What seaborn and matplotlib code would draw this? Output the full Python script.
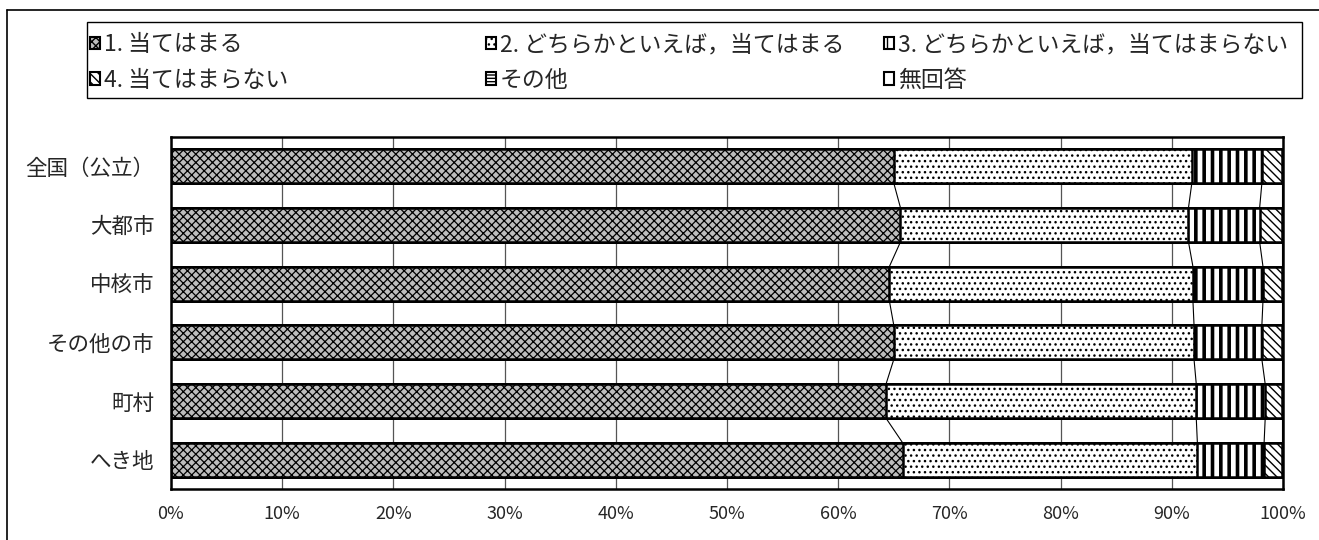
import numpy as np
import pandas as pd
import matplotlib
matplotlib.use("Agg")
import matplotlib.pyplot as plt
from matplotlib.patches import Patch, Rectangle
from matplotlib.lines import Line2D
from matplotlib.ticker import PercentFormatter
import seaborn as sns

categories = ["全国（公立）", "大都市", "中核市", "その他の市", "町村", "へき地"]
answers = ["1. 当てはまる", "2. どちらかといえば，当てはまる", "3. どちらかといえば，当てはまらない",
           "4. 当てはまらない", "その他", "無回答"]
ans1 = [65.0, 65.6, 64.6, 65.0, 64.3, 65.8]
ans2 = [26.8, 25.9, 27.3, 27.0, 27.9, 26.5]
ans3 = [6.3, 6.4, 6.3, 6.1, 6.2, 6.0]
ans4 = [1.8, 2.0, 1.7, 1.8, 1.5, 1.6]
other = [0.0, 0.0, 0.0, 0.0, 0.0, 0.0]
no_answer = [0.1, 0.1, 0.1, 0.1, 0.1, 0.1]
xticks = [0, 10, 20, 30, 40, 50, 60, 70, 80, 90, 100]

# styles for the six answers
hatches = ["xxxx", "...", "||", "\\\\\\\\", "-----", ""]
faces = ["#bdbdbd", "white", "white", "white", "white", "white"]
hatch_lw = [0.9, 1.0, 2.6, 1.0, 1.0, 1.0]

sns.set_style("white")
plt.rcParams["font.family"] = ["Noto Sans CJK JP", "DejaVu Sans"]
plt.rcParams["hatch.linewidth"] = 1.0

vals = np.array([ans1, ans2, ans3, ans4, other, no_answer])
cum = np.cumsum(vals, axis=0)
BAR_H = 0.58

fig = plt.figure(figsize=(13.19, 5.40), dpi=100)
ax = fig.add_axes([171 / 1319, 1 - 489.3 / 540, (1283 - 171) / 1319, (489.3 - 136.7) / 540])

for k in reversed(range(6)):
    df = pd.DataFrame({"cat": categories, "value": cum[k]})
    n_before = len(ax.patches)
    sns.barplot(data=df, x="value", y="cat", orient="y", color=faces[k], hatch=hatches[k],
                edgecolor="black", linewidth=1.8, width=BAR_H, saturation=1,
                errorbar=None, ax=ax, zorder=2)
    for p in ax.patches[n_before:]:
        if hasattr(p, "set_hatch_linewidth"):
            p.set_hatch_linewidth(hatch_lw[k])

# connector lines between bars
for k in range(4):
    for i in range(len(categories) - 1):
        ax.plot([cum[k][i], cum[k][i + 1]], [i + BAR_H / 2, i + 1 - BAR_H / 2],
                color="black", lw=0.8, zorder=3)

ax.set_xlim(0, 100)
ax.set_ylim(len(categories) - 0.5, -0.5)
ax.set_xticks(xticks)
ax.xaxis.set_major_formatter(PercentFormatter(xmax=100, decimals=0))
ax.set_yticks(np.arange(0.5, len(categories) - 1), minor=True)
ax.tick_params(axis="x", length=0, pad=11, labelsize=13)
ax.tick_params(axis="y", which="major", length=0, pad=12, labelsize=15.5)
ax.tick_params(axis="y", which="minor", direction="in", length=6, width=1, color="black")
ax.set_xlabel("")
ax.set_ylabel("")
ax.grid(axis="x", color="#555555", lw=0.9)
ax.grid(axis="y", visible=False)
ax.set_axisbelow(True)
for s in ax.spines.values():
    s.set_color("black")
    s.set_linewidth(1.8)

# legend: three columns placed separately, one box around them
col_x = [90 / 1319, 486 / 1319, 884 / 1319]
for c in range(3):
    hs = []
    for j in (c, c + 3):
        hp = Patch(facecolor=faces[j], edgecolor="black", hatch=hatches[j], lw=1.5)
        if hasattr(hp, "set_hatch_linewidth"):
            hp.set_hatch_linewidth(hatch_lw[j])
        hs.append(hp)
    fig.legend(hs, [answers[c], answers[c + 3]], loc="upper left",
               bbox_to_anchor=(col_x[c], 1 - 33 / 540), frameon=False, borderpad=0,
               borderaxespad=0, handlelength=0.45, handleheight=0.45, handletextpad=0.15,
               labelspacing=0.55, fontsize=16.5)

fig.add_artist(Rectangle((87 / 1319, 1 - 98 / 540), (1302 - 87) / 1319, 76 / 540,
                         transform=fig.transFigure, fill=False, ec="black", lw=1))
fig.add_artist(Line2D([7 / 1319, 1], [1 - 10 / 540, 1 - 10 / 540], transform=fig.transFigure,
                      color="black", lw=1.2))
fig.add_artist(Line2D([7 / 1319, 7 / 1319], [0, 1 - 10 / 540], transform=fig.transFigure,
                      color="black", lw=1.2))

fig.savefig("out.png", dpi=100)
